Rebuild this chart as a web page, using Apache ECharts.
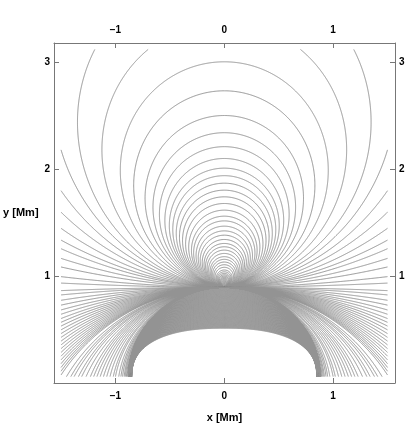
<!DOCTYPE html>
<html>
<head>
<meta charset="utf-8">
<title>Field lines</title>
<script src="https://cdn.jsdelivr.net/npm/echarts@6/dist/echarts.min.js"></script>
<style>
  html, body { margin: 0; padding: 0; background: #fff; }
  #chart { width: 415px; height: 425px; }
</style>
</head>
<body>
<div id="chart"></div>
<script>
// values, in Mm
const meetY = 0.90;   // height on x = 0 where the side lines run together

// loops whose top is inside the box, read on x = 0
const apexY = [3.00, 2.73, 2.50, 2.34, 2.21, 2.10, 2.01, 1.94, 1.87, 1.805, 1.743, 1.681,
  1.619, 1.563, 1.519, 1.47, 1.426, 1.386, 1.346, 1.309, 1.278, 1.247, 1.216, 1.186, 1.161,
  1.136, 1.111, 1.087, 1.062, 1.045, 1.03, 1.017, 1.005, 0.994, 0.984, 0.975, 0.966, 0.958,
  0.95, 0.943, 0.936, 0.93, 0.924, 0.918, 0.913, 0.908, 0.904];
// loops leaving through the top edge (left crossing, mirrored on the right)
const topEdgeX = [-1.19, -0.70];
// lines crossing the side edges above / below the meeting height
const sideEdgeYUpper = [2.18, 1.80, 1.60, 1.45, 1.34, 1.26, 1.17, 1.09, 1.00, 0.94];
const sideEdgeYLower = [0.87, 0.83, 0.78, 0.735, 0.69, 0.65, 0.61, 0.575, 0.54, 0.505, 0.47,
  0.435, 0.40, 0.365, 0.33, 0.295, 0.26, 0.225, 0.19, 0.155, 0.12, 0.085];
// lines reaching the bottom edge (left foot, mirrored on the right)
const bottomEdgeX = [-1.45, -1.41, -1.38, -1.34, -1.31, -1.27, -1.23, -1.20, -1.17, -1.14,
  -1.11, -1.08, -1.05, -1.02, -1.00, -0.97, -0.95, -0.935, -0.92, -0.91, -0.90, -0.893,
  -0.886, -0.879, -0.872, -0.866, -0.86, -0.855, -0.85];
// arches over the white dome: top height and foot half-width
const domeApexY = [0.520, 0.525, 0.530, 0.535, 0.540, 0.545, 0.550, 0.555, 0.560, 0.565,
  0.570, 0.575, 0.580, 0.585, 0.590, 0.595, 0.600, 0.605, 0.610, 0.615, 0.620, 0.625, 0.630,
  0.635, 0.640, 0.645, 0.650, 0.655, 0.660, 0.665, 0.670, 0.675, 0.680, 0.685, 0.690, 0.695,
  0.700, 0.705, 0.710, 0.715, 0.720, 0.725, 0.730, 0.735, 0.740, 0.745, 0.750, 0.755, 0.760,
  0.765, 0.770, 0.775, 0.780, 0.785, 0.790, 0.795, 0.800, 0.805, 0.810, 0.815, 0.820, 0.825,
  0.830, 0.835, 0.840, 0.845, 0.850, 0.855, 0.860, 0.865, 0.870, 0.875, 0.880, 0.885, 0.890,
  0.895, 0.900];
const domeFootX = [0.850, 0.850, 0.851, 0.851, 0.852, 0.852, 0.852, 0.853, 0.853, 0.854,
  0.854, 0.854, 0.855, 0.855, 0.856, 0.856, 0.856, 0.857, 0.857, 0.858, 0.858, 0.858, 0.859,
  0.859, 0.860, 0.860, 0.860, 0.861, 0.861, 0.862, 0.862, 0.862, 0.863, 0.863, 0.864, 0.864,
  0.864, 0.865, 0.865, 0.866, 0.866, 0.866, 0.867, 0.867, 0.868, 0.868, 0.868, 0.869, 0.869,
  0.870, 0.870, 0.870, 0.871, 0.871, 0.872, 0.872, 0.872, 0.873, 0.873, 0.874, 0.874, 0.874,
  0.875, 0.875, 0.876, 0.876, 0.876, 0.877, 0.877, 0.878, 0.878, 0.878, 0.879, 0.879, 0.880,
  0.880, 0.880];

const xTicks = [-1, 0, 1];
const yTicks = [1, 2, 3];

// box the lines were drawn in
const box = { x0: -1.5, x1: 1.5, y0: 0.0699, y1: 3.115 };
const footY = 0.07;
const upperShape = 1.3;   // r = L sin^k(theta) above the meeting height
const lowerShape = 1.0;   // circles below it

function loopSize(x, y, k) {
  const dy = y - meetY;
  const r = Math.hypot(x, dy);
  return r / Math.pow(Math.abs(dy) / r, k);
}

// one half of a loop, from the meeting point outwards (left side)
function traceHalf(L, k, sign) {
  const pts = [[0, 0]];
  let th = 0, dth = 1e-6;
  while (th < Math.PI / 2) {
    const nth = Math.min(th + dth, Math.PI / 2);
    const r = L * Math.pow(Math.sin(nth), k);
    const p = [-r * Math.cos(nth), sign * r * Math.sin(nth)];
    const q = pts[pts.length - 1];
    const d = Math.hypot(p[0] - q[0], p[1] - q[1]);
    if (d > 0.008 && dth > 1e-12) { dth /= 2; continue; }
    pts.push(p);
    th = nth;
    if (d < 0.004) dth *= 2;
    if (r > 3.2) break;
  }
  return pts.map(p => [p[0], meetY + p[1]]);
}

// arch standing on the bottom edge, boxy near the dome, rounder further out
function traceArch(top, foot) {
  const b = top - footY;
  const n = 2.4 - 0.4 * (b - 0.45) / 0.38;
  const pts = [];
  for (let i = 0; i <= 400; i++) {
    const t = Math.PI * i / 800;   // left half, foot to top
    pts.push([-foot * Math.pow(Math.cos(t), 2 / n), footY + b * Math.pow(Math.sin(t), 2 / n)]);
  }
  return pts;
}

function inside(p) {
  return p[0] >= box.x0 && p[0] <= box.x1 && p[1] >= box.y0 && p[1] <= box.y1;
}

function edgePoint(a, b) {
  // a inside, b outside
  let lo = 0, hi = 1;
  for (let i = 0; i < 24; i++) {
    const m = (lo + hi) / 2;
    const p = [a[0] + (b[0] - a[0]) * m, a[1] + (b[1] - a[1]) * m];
    if (inside(p)) lo = m; else hi = m;
  }
  return [a[0] + (b[0] - a[0]) * lo, a[1] + (b[1] - a[1]) * lo];
}

function clip(pts) {
  const segs = [];
  let cur = inside(pts[0]) ? [pts[0]] : null;
  for (let i = 1; i < pts.length; i++) {
    const a = pts[i - 1], b = pts[i];
    const ia = inside(a), ib = inside(b);
    if (ia && ib) cur.push(b);
    else if (ia && !ib) { cur.push(edgePoint(a, b)); segs.push(cur); cur = null; }
    else if (!ia && ib) cur = [edgePoint(b, a), b];
  }
  if (cur && cur.length > 1) segs.push(cur);
  return segs;
}

const halves = [];
apexY.forEach(y => halves.push(traceHalf(y - meetY, upperShape, 1)));
topEdgeX.forEach(x => halves.push(traceHalf(loopSize(x, box.y1, upperShape), upperShape, 1)));
sideEdgeYUpper.forEach(y => halves.push(traceHalf(loopSize(box.x0, y, upperShape), upperShape, 1)));
sideEdgeYLower.forEach(y => halves.push(traceHalf(loopSize(box.x0, y, lowerShape), lowerShape, -1)));
bottomEdgeX.forEach(x => halves.push(traceHalf(loopSize(x, footY, lowerShape), lowerShape, -1)));
domeApexY.forEach((y, i) => halves.push(traceArch(y, domeFootX[i])));

const lineData = [];
halves.forEach(half => {
  [-1, 1].forEach(side => {
    const pts = half.map(p => [side * p[0], p[1]]);
    clip(pts).forEach(seg => lineData.push({ coords: seg }));
  });
});

const fmt = v => (v < 0 ? '\u2212' + Math.abs(v) : String(v));
const labelStyle = { color: '#000', fontWeight: 'bold', fontSize: 10, fontFamily: 'Liberation Sans' };
const nameStyle = { color: '#000', fontWeight: 'bold', fontSize: 11, fontFamily: 'Liberation Sans' };
const frame = { show: true, onZero: false, lineStyle: { color: '#777', width: 1 } };

function xAx(pos, withName) {
  return {
    type: 'value', position: pos, min: -1.565, max: 1.569,
    axisLine: frame,
    axisTick: { show: true, inside: true, length: 5, customValues: xTicks, lineStyle: { color: '#777' } },
    axisLabel: Object.assign({ customValues: xTicks, formatter: fmt, margin: 8 }, labelStyle),
    splitLine: { show: false },
    name: withName ? 'x [Mm]' : '', nameLocation: 'middle', nameGap: 29,
    nameTextStyle: nameStyle
  };
}
function yAx(pos, withName) {
  return {
    type: 'value', position: pos, min: 0.01, max: 3.175,
    axisLine: frame,
    axisTick: { show: true, inside: true, length: 5, customValues: yTicks, lineStyle: { color: '#777' } },
    axisLabel: Object.assign({ customValues: yTicks, formatter: fmt, margin: 4 }, labelStyle),
    splitLine: { show: false },
    name: withName ? 'y [Mm]' : '', nameLocation: 'middle', nameRotate: 0, nameGap: 15,
    nameTextStyle: nameStyle
  };
}

const chart = echarts.init(document.getElementById('chart'));
chart.setOption({
  animation: false,
  backgroundColor: '#fff',
  grid: { left: 54, right: 20, top: 43, bottom: 42, containLabel: false, outerBoundsMode: 'none' },
  xAxis: [xAx('bottom', true), xAx('top', false)],
  yAxis: [yAx('left', true), yAx('right', false)],
  series: [{
    type: 'lines',
    coordinateSystem: 'cartesian2d',
    xAxisIndex: 0,
    yAxisIndex: 0,
    polyline: true,
    silent: true,
    lineStyle: { color: '#939393', width: 1, opacity: 1 },
    data: lineData
  }]
});
</script>
</body>
</html>
